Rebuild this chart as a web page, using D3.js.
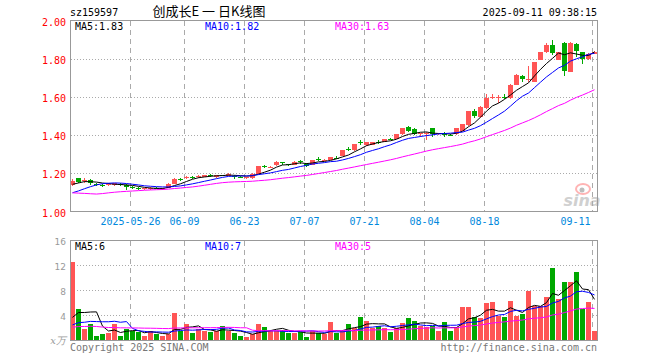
<!DOCTYPE html>
<html>
<head>
<meta charset="utf-8">
<script src="https://cdn.jsdelivr.net/npm/d3@7"></script>
<style>
  body { margin: 0; background: #fff; }
  text { font-family: "DejaVu Sans Mono", monospace; font-size: 10px; }
</style>
</head>
<body>
<div id="kline"></div>
<script>
// trading days shown (2025)
const dates = [
  "05-12","05-13","05-14","05-15","05-16","05-19","05-20","05-21","05-22","05-23",
  "05-26","05-27","05-28","05-29","05-30","06-03","06-04","06-05","06-06","06-09",
  "06-10","06-11","06-12","06-13","06-16","06-17","06-18","06-19","06-20","06-23",
  "06-24","06-25","06-26","06-27","06-30","07-01","07-02","07-03","07-04","07-07",
  "07-08","07-09","07-10","07-11","07-14","07-15","07-16","07-17","07-18","07-21",
  "07-22","07-23","07-24","07-25","07-28","07-29","07-30","07-31","08-01","08-04",
  "08-05","08-06","08-07","08-08","08-11","08-12","08-13","08-14","08-15","08-18",
  "08-19","08-20","08-21","08-22","08-25","08-26","08-27","08-28","08-29","09-01",
  "09-02","09-03","09-04","09-05","09-08","09-09","09-10","09-11"
];

const open = [
  1.140,1.174,1.163,1.166,1.146,1.140,1.138,1.140,1.146,1.140,
  1.127,1.125,1.116,1.118,1.124,1.119,1.124,1.145,1.172,1.175,
  1.182,1.180,1.183,1.190,1.180,1.190,1.187,1.186,1.182,1.174,
  1.173,1.198,1.238,1.231,1.242,1.258,1.248,1.246,1.262,1.250,
  1.245,1.276,1.268,1.271,1.282,1.290,1.327,1.320,1.362,1.346,
  1.350,1.366,1.364,1.382,1.380,1.405,1.440,1.430,1.406,1.410,
  1.435,1.405,1.410,1.402,1.405,1.423,1.453,1.526,1.493,1.540,
  1.594,1.594,1.602,1.593,1.663,1.712,1.690,1.680,1.795,1.833,
  1.870,1.795,1.883,1.730,1.879,1.835,1.798,1.826
];
const high = [
  1.168,1.178,1.178,1.170,1.150,1.146,1.148,1.150,1.150,1.142,
  1.132,1.128,1.124,1.126,1.126,1.125,1.148,1.175,1.174,1.188,
  1.185,1.190,1.192,1.196,1.193,1.192,1.200,1.190,1.188,1.182,
  1.200,1.240,1.246,1.240,1.262,1.259,1.250,1.262,1.268,1.252,
  1.272,1.285,1.276,1.286,1.288,1.322,1.336,1.356,1.372,1.366,
  1.366,1.372,1.382,1.386,1.406,1.438,1.447,1.438,1.412,1.414,
  1.437,1.412,1.418,1.408,1.437,1.460,1.528,1.535,1.552,1.617,
  1.617,1.610,1.617,1.665,1.720,1.713,1.763,1.785,1.835,1.880,
  1.896,1.835,1.885,1.885,1.880,1.836,1.828,1.838
];
const low = [
  1.135,1.150,1.148,1.138,1.135,1.128,1.132,1.136,1.135,1.115,
  1.120,1.115,1.112,1.115,1.117,1.115,1.122,1.143,1.158,1.172,
  1.170,1.175,1.180,1.183,1.178,1.184,1.185,1.172,1.175,1.170,
  1.170,1.196,1.228,1.226,1.240,1.242,1.240,1.244,1.248,1.235,
  1.243,1.265,1.262,1.268,1.274,1.288,1.316,1.318,1.348,1.344,
  1.348,1.356,1.362,1.372,1.378,1.403,1.415,1.398,1.392,1.375,
  1.392,1.402,1.392,1.395,1.403,1.420,1.450,1.492,1.490,1.535,
  1.590,1.570,1.590,1.590,1.660,1.680,1.680,1.678,1.792,1.830,
  1.820,1.793,1.712,1.728,1.808,1.770,1.795,1.822
];
const close = [
  1.162,1.155,1.166,1.147,1.140,1.137,1.143,1.147,1.140,1.128,
  1.125,1.118,1.121,1.123,1.120,1.122,1.144,1.170,1.170,1.180,
  1.180,1.184,1.190,1.188,1.192,1.187,1.196,1.184,1.180,1.180,
  1.198,1.236,1.235,1.234,1.258,1.255,1.243,1.260,1.258,1.238,
  1.270,1.274,1.271,1.284,1.280,1.320,1.324,1.355,1.360,1.364,
  1.364,1.363,1.380,1.380,1.405,1.435,1.420,1.405,1.410,1.412,
  1.405,1.410,1.400,1.400,1.435,1.458,1.526,1.500,1.549,1.593,
  1.597,1.597,1.600,1.663,1.716,1.695,1.693,1.783,1.833,1.870,
  1.830,1.833,1.738,1.883,1.838,1.798,1.826,1.833
];
// volume, 万手
const volume = [
  12.5,5.1,1.8,2.7,0.8,1.1,1.2,2.6,0.7,1.8,
  1.6,1.3,0.8,1.6,1.1,0.8,1.0,4.4,1.6,2.7,
  1.2,1.8,1.5,1.3,1.6,2.4,1.5,1.2,0.8,0.5,
  1.0,2.7,2.1,1.6,1.6,1.7,1.2,1.2,1.3,0.6,
  1.6,1.2,1.0,2.9,1.2,1.6,2.6,2.0,3.7,3.2,
  2.0,2.4,2.0,1.3,2.0,2.8,3.6,3.2,2.4,2.1,
  2.4,1.5,2.9,1.5,2.1,5.4,5.4,3.8,3.6,6.0,
  6.1,4.0,3.8,6.3,4.0,4.3,8.0,5.5,5.5,7.0,
  11.6,6.6,9.3,9.3,11.0,5.0,6.1,1.5
];
// 29 sessions before the window, only used to feed the moving averages
const priorClose = [
  1.20,1.21,1.20,1.19,1.06,1.03,1.05,1.06,1.07,1.07,
  1.06,1.06,1.08,1.08,1.09,1.08,1.08,1.09,1.09,1.10,
  1.06,1.05,1.04,1.05,1.07,1.12,1.13,1.15,1.15
];
const priorVolume = [
  1.6,1.5,1.7,1.8,4.0,3.2,2.6,2.2,2.0,1.9,
  1.7,1.6,1.8,1.7,1.6,1.5,1.4,1.6,1.5,1.6,
  1.5,1.2,1.3,1.1,1.4,1.2,1.8,2.3,0.7
];

const tickDates = ["05-26","06-09","06-23","07-07","07-21","08-04","08-18","09-11"];
const tickLabels = ["2025-05-26","06-09","06-23","07-07","07-21","08-04","08-18","09-11"];
const priceTicks = [1.00, 1.20, 1.40, 1.60, 1.80, 2.00];
const volTicks = [4, 8, 12, 16];
const maPeriods = [5, 10, 30];
const maColors = ["#000000", "#0000ff", "#ff00ff"];
const maPriceLabels = ["1.83", "1.82", "1.63"];
const maVolLabels = ["6", "7", "5"];

const W = 660, H = 360;
const left = 70.5, right = 597.5;
const top1 = 20.5, bot1 = 211.5, top2 = 240.5, bot2 = 340.5;
const up = "#ff5555", down = "#00a800";
const n = dates.length;

const svg = d3.select("#kline").append("svg")
  .attr("width", W).attr("height", H);

const x = d3.scaleBand().domain(d3.range(n)).range([70, 70 + 6 * n]);
const xi = d3.scaleLinear().domain([0, n]).range([70, 70 + 6 * n]);
const y = d3.scaleLinear().domain([1, 2]).range([bot1, top1]);
const yv = d3.scaleLinear().domain([0, 16]).range([bot2, top2]);

function movingAvg(prior, vals, p) {
  const all = prior.concat(vals), k = prior.length;
  return vals.map((_, i) => d3.mean(all.slice(k + i - p + 1, k + i + 1)));
}

const tickIdx = tickDates.map(d => dates.indexOf(d));
const isUp = i => close[i] >= open[i];

// ---- grid
const grid = svg.append("g").attr("stroke", "#aaa").attr("shape-rendering", "crispEdges");
[[top1, bot1], [top2, bot2]].forEach(([a, b]) => {
  grid.append("g").selectAll("line").data(tickIdx).join("line")
    .attr("x1", i => x(i) + 0.5).attr("x2", i => x(i) + 0.5)
    .attr("y1", a).attr("y2", b)
    .attr("stroke-dasharray", "5,4");
});
grid.append("g").selectAll("line").data(priceTicks.slice(1, -1)).join("line")
  .attr("x1", left).attr("x2", right)
  .attr("y1", d => Math.round(y(d)) + 0.5).attr("y2", d => Math.round(y(d)) + 0.5)
  .attr("stroke-dasharray", "1,2");
grid.append("g").selectAll("line").data(volTicks.slice(0, -1)).join("line")
  .attr("x1", left).attr("x2", right)
  .attr("y1", d => yv(d)).attr("y2", d => yv(d))
  .attr("stroke-dasharray", "1,2");

// ---- sina watermark
const wm = svg.append("g").attr("opacity", 0.55);
wm.append("ellipse").attr("cx", 583).attr("cy", 189).attr("rx", 7).attr("ry", 5)
  .attr("fill", "none").attr("stroke", "#f77").attr("stroke-width", 2);
wm.append("circle").attr("cx", 582).attr("cy", 190).attr("r", 2.5).attr("fill", "#888");
wm.append("text").attr("x", 582).attr("y", 206).attr("text-anchor", "middle")
  .style("font-family", "DejaVu Sans").style("font-size", "16px")
  .style("font-weight", "bold").style("font-style", "italic")
  .attr("fill", "#aaa").text("sina");

// ---- candles
const candles = svg.append("g").attr("shape-rendering", "crispEdges");
candles.selectAll("line").data(d3.range(n)).join("line")
  .attr("x1", i => x(i) + 2.5).attr("x2", i => x(i) + 2.5)
  .attr("y1", i => y(high[i])).attr("y2", i => y(low[i]))
  .attr("stroke", i => isUp(i) ? up : down);
candles.selectAll("rect").data(d3.range(n)).join("rect")
  .attr("x", i => x(i))
  .attr("y", i => y(Math.max(open[i], close[i])))
  .attr("width", 5)
  .attr("height", i => Math.max(1, Math.abs(y(open[i]) - y(close[i]))))
  .attr("fill", i => isUp(i) ? up : down);

// ---- volume bars
svg.append("g").attr("shape-rendering", "crispEdges")
  .selectAll("rect").data(d3.range(n)).join("rect")
  .attr("x", i => x(i))
  .attr("y", i => yv(volume[i]))
  .attr("width", 5)
  .attr("height", i => yv(0) - yv(volume[i]))
  .attr("fill", i => isUp(i) ? up : down);

// ---- moving averages
const priceLine = d3.line().x((d, i) => x(i) + 2.5).y(d => y(d));
const volLine = d3.line().x((d, i) => x(i) + 2.5).y(d => yv(d));
maPeriods.forEach((p, k) => {
  svg.append("path").datum(movingAvg(priorClose, close, p))
    .attr("d", priceLine).attr("fill", "none")
    .attr("stroke", maColors[k]).attr("stroke-width", 1);
  svg.append("path").datum(movingAvg(priorVolume, volume, p))
    .attr("d", volLine).attr("fill", "none")
    .attr("stroke", maColors[k]).attr("stroke-width", 1);
});

// ---- frames
[[top1, bot1], [top2, bot2]].forEach(([a, b]) => {
  svg.append("rect").attr("x", left).attr("y", a)
    .attr("width", right - left).attr("height", b - a)
    .attr("fill", "none").attr("stroke", "#999").attr("shape-rendering", "crispEdges");
});

// ---- axes
const yAxis = svg.append("g").attr("transform", `translate(70,0)`)
  .call(d3.axisLeft(y).tickValues(priceTicks).tickFormat(d3.format(".2f")).tickSize(0).tickPadding(4));
yAxis.select(".domain").remove();
yAxis.selectAll("text").attr("dy", "0.45em").attr("fill", "#ff0000")
  .style("font-family", "DejaVu Sans Mono").style("font-size", "10px");

const vAxis = svg.append("g").attr("transform", `translate(70,0)`)
  .call(d3.axisLeft(yv).tickValues(volTicks).tickSize(0).tickPadding(4));
vAxis.select(".domain").remove();
vAxis.selectAll("text").attr("dy", "0.42em").attr("fill", "#999")
  .style("font-family", "DejaVu Sans").style("font-size", "9px");

const xAxis = svg.append("g").attr("transform", `translate(0,${bot1})`)
  .call(d3.axisBottom(xi).tickValues(tickIdx).tickFormat((d, i) => tickLabels[i]).tickSize(0).tickPadding(6));
xAxis.select(".domain").remove();
xAxis.selectAll("text").attr("fill", "#0088dd")
  .style("font-family", "DejaVu Sans Mono").style("font-size", "10px");
xAxis.selectAll(".tick:last-of-type text").attr("text-anchor", "end").attr("x", -2);

// ---- texts
svg.append("text").attr("x", 70).attr("y", 16).text("sz159597");
svg.append("text").attr("x", 209).attr("y", 16).attr("text-anchor", "middle")
  .style("font-family", "'Noto Sans CJK SC'").style("font-size", "13px")
  .text("创成长E 一 日K线图");
svg.append("text").attr("x", 597).attr("y", 16).attr("text-anchor", "end")
  .text("2025-09-11 09:38:15");

maPeriods.forEach((p, k) => {
  svg.append("text").attr("x", 75 + 130 * k).attr("y", 30)
    .attr("fill", maColors[k]).text(`MA${p}:${maPriceLabels[k]}`);
  svg.append("text").attr("x", 75 + 130 * k).attr("y", 250)
    .attr("fill", maColors[k]).text(`MA${p}:${maVolLabels[k]}`);
});

svg.append("text").attr("x", 66).attr("y", 344).attr("text-anchor", "end")
  .attr("fill", "#999").style("font-family", "DejaVu Serif").style("font-style", "italic")
  .style("font-size", "10px").text("x万");
svg.append("text").attr("x", 70).attr("y", 351).attr("fill", "#777")
  .text("Copyright 2025 SINA.COM");
svg.append("text").attr("x", 597).attr("y", 351).attr("text-anchor", "end").attr("fill", "#777")
  .text("http://finance.sina.com.cn");
</script>
</body>
</html>
